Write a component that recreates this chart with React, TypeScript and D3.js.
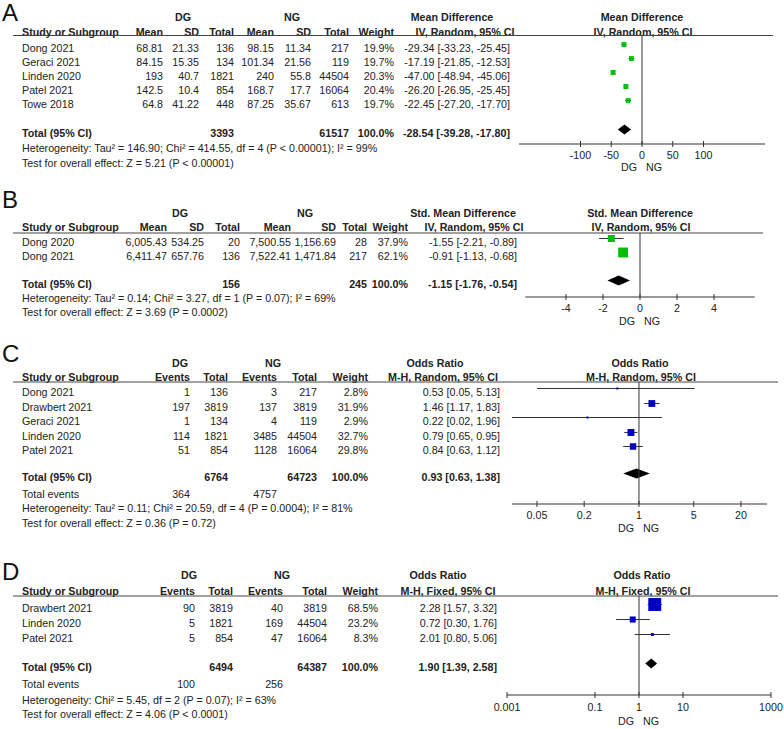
import * as d3 from "d3";

// ---- Panel A: mean difference, DG vs NG ----
const studiesA = ["Dong 2021", "Geraci 2021", "Linden 2020", "Patel 2021", "Towe 2018"];
const dgMeanA = [68.81, 84.15, 193, 142.5, 64.8];
const dgSdA = [21.33, 15.35, 40.7, 10.4, 41.22];
const dgTotalA = [136, 134, 1821, 854, 448];
const ngMeanA = [98.15, 101.34, 240, 168.7, 87.25];
const ngSdA = [11.34, 21.56, 55.8, 17.7, 35.67];
const ngTotalA = [217, 119, 44504, 16064, 613];
const weightA = [19.9, 19.7, 20.3, 20.4, 19.7];
const estA = [-29.34, -17.19, -47.0, -26.2, -22.45];
const lowA = [-33.23, -21.85, -48.94, -26.95, -27.2];
const highA = [-25.45, -12.53, -45.06, -25.45, -17.7];
const pooledA = [-28.54, -39.28, -17.8];
const totalsA = [3393, 61517];
const hetA = "Heterogeneity: Tau² = 146.90; Chi² = 414.55, df = 4 (P < 0.00001); I² = 99%";
const testA = "Test for overall effect: Z = 5.21 (P < 0.00001)";
const ticksA = [-100, -50, 0, 50, 100];

// ---- Panel B: standardised mean difference ----
const studiesB = ["Dong 2020", "Dong 2021"];
const dgMeanB = [6005.43, 6411.47];
const dgSdB = [534.25, 657.76];
const dgTotalB = [20, 136];
const ngMeanB = [7500.55, 7522.41];
const ngSdB = [1156.69, 1471.84];
const ngTotalB = [28, 217];
const weightB = [37.9, 62.1];
const estB = [-1.55, -0.91];
const lowB = [-2.21, -1.13];
const highB = [-0.89, -0.68];
const pooledB = [-1.15, -1.76, -0.54];
const totalsB = [156, 245];
const hetB = "Heterogeneity: Tau² = 0.14; Chi² = 3.27, df = 1 (P = 0.07); I² = 69%";
const testB = "Test for overall effect: Z = 3.69 (P = 0.0002)";
const ticksB = [-4, -2, 0, 2, 4];

// ---- Panel C: odds ratio, random effects ----
const studiesC = ["Dong 2021", "Drawbert 2021", "Geraci 2021", "Linden 2020", "Patel 2021"];
const dgEventsC = [1, 197, 1, 114, 51];
const dgTotalC = [136, 3819, 134, 1821, 854];
const ngEventsC = [3, 137, 4, 3485, 1128];
const ngTotalC = [217, 3819, 119, 44504, 16064];
const weightC = [2.8, 31.9, 2.9, 32.7, 29.8];
const estC = [0.53, 1.46, 0.22, 0.79, 0.84];
const lowC = [0.05, 1.17, 0.02, 0.65, 0.63];
const highC = [5.13, 1.83, 1.96, 0.95, 1.12];
const pooledC = [0.93, 0.63, 1.38];
const totalsC = [6764, 64723];
const eventsC = [364, 4757];
const hetC = "Heterogeneity: Tau² = 0.11; Chi² = 20.59, df = 4 (P = 0.0004); I² = 81%";
const testC = "Test for overall effect: Z = 0.36 (P = 0.72)";
const ticksC = [0.05, 0.2, 1, 5, 20];

// ---- Panel D: odds ratio, fixed effect ----
const studiesD = ["Drawbert 2021", "Linden 2020", "Patel 2021"];
const dgEventsD = [90, 5, 5];
const dgTotalD = [3819, 1821, 854];
const ngEventsD = [40, 169, 47];
const ngTotalD = [3819, 44504, 16064];
const weightD = [68.5, 23.2, 8.3];
const estD = [2.28, 0.72, 2.01];
const lowD = [1.57, 0.3, 0.8];
const highD = [3.32, 1.76, 5.06];
const pooledD = [1.9, 1.39, 2.58];
const totalsD = [6494, 64387];
const eventsD = [100, 256];
const hetD = "Heterogeneity: Chi² = 5.45, df = 2 (P = 0.07); I² = 63%";
const testD = "Test for overall effect: Z = 4.06 (P < 0.0001)";
const ticksD = [0.001, 0.1, 1, 10, 1000];

const FONT = "'Liberation Sans', Arial, Helvetica, sans-serif";
const FS = 10.7;
const INK = "#222";
const GREEN = "#00c000";
const BLUE = "#0000c0";

const f2 = (v: number) => v.toFixed(2);
const ciText = (e: number, l: number, h: number) => `${f2(e)} [${f2(l)}, ${f2(h)}]`;
const pct = (w: number) => w.toFixed(1) + "%";
const comma2 = d3.format(",.2f");

interface Row {
  name: string;
  cells: string[];
  est: number;
  lo: number;
  hi: number;
  w: number;
}

interface PanelCfg {
  letter: string;
  letterY: number;
  dgX: number;
  ngX: number;
  groupY: number;
  headY: number;
  lineY: number;
  lineEnd: number;
  colHeads: string[];
  colRight: number[];
  rows: Row[];
  rowY: number[];
  totalY: number;
  totalCells: [number, string][];
  pooled: number[];
  eventsY?: number;
  eventsCells?: [number, string][];
  notes: [number, string][];
  estTitle: string;
  estSub: string;
  estTitleX: number;
  estSubX: number;
  estRight: number;
  plotX: number;
  scale: (v: number) => number;
  range: [number, number];
  axisY: number;
  ticks: number[];
  tickY: number;
  dgngY: number;
  color: string;
  k: number;
}

const T = (props: any) => (
  <text fontFamily={FONT} fontSize={FS} fill={INK} {...props} />
);

function Panel({ c }: { c: PanelCfg }) {
  const x0 = c.scale(c.ticks.includes(0) ? 0 : 1);
  const clip = (x: number) => Math.max(c.range[0], Math.min(c.range[1], x));
  const sz = (w: number) => Math.max(2, c.k * Math.pow(w, 0.7));
  const [pe, pl, ph] = c.pooled;
  const dy = c.totalY - 3.5;
  return (
    <g>
      <text x={2} y={c.letterY} fontFamily={FONT} fontSize={24} fill="#111">
        {c.letter}
      </text>
      <T x={c.dgX} y={c.groupY + 4} fontWeight="bold" textAnchor="middle">DG</T>
      <T x={c.ngX} y={c.groupY + 4} fontWeight="bold" textAnchor="middle">NG</T>
      <T x={22} y={c.headY + 4} fontWeight="bold">Study or Subgroup</T>
      {c.colHeads.map((h, i) => (
        <T key={i} x={c.colRight[i]} y={c.headY + 4} fontWeight="bold" textAnchor="end">{h}</T>
      ))}
      <T x={c.estTitleX} y={c.groupY + 4} fontWeight="bold" textAnchor="middle">{c.estTitle}</T>
      <T x={c.estSubX} y={c.headY + 4} fontWeight="bold" textAnchor="middle">{c.estSub}</T>
      <T x={c.plotX} y={c.groupY + 4} fontWeight="bold" textAnchor="middle">{c.estTitle}</T>
      <T x={c.plotX + 1} y={c.headY + 4} fontWeight="bold" textAnchor="middle">{c.estSub}</T>
      <line x1={13} x2={c.lineEnd} y1={c.lineY} y2={c.lineY} stroke="#444" strokeWidth={1.2} />

      {c.rows.map((r, i) => {
        const y = c.rowY[i];
        const my = y - 3.5;
        const s = sz(r.w);
        return (
          <g key={r.name}>
            <T x={22} y={y + 4}>{r.name}</T>
            {r.cells.map((v, j) => (
              <T key={j} x={c.colRight[j]} y={y + 4} textAnchor="end">{v}</T>
            ))}
            <T x={c.estRight} y={y + 4} textAnchor="end">{ciText(r.est, r.lo, r.hi)}</T>
            <line x1={clip(c.scale(r.lo))} x2={clip(c.scale(r.hi))} y1={my} y2={my} stroke="#333" strokeWidth={1} />
            <rect x={c.scale(r.est) - s / 2} y={my - s / 2} width={s} height={s} fill={c.color} />
          </g>
        );
      })}

      <T x={22} y={c.totalY + 4} fontWeight="bold">Total (95% CI)</T>
      {c.totalCells.map(([j, v]) => (
        <T key={j} x={c.colRight[j]} y={c.totalY + 4} fontWeight="bold" textAnchor="end">{v}</T>
      ))}
      <T x={c.estRight} y={c.totalY + 4} fontWeight="bold" textAnchor="end">{ciText(pe, pl, ph)}</T>
      <path
        d={`M${c.scale(pl)},${dy}L${c.scale(pe)},${dy - 5}L${c.scale(ph)},${dy}L${c.scale(pe)},${dy + 5}Z`}
        fill="#000"
      />

      {c.eventsY !== undefined && (
        <g>
          <T x={22} y={c.eventsY + 4}>Total events</T>
          {c.eventsCells!.map(([j, v]) => (
            <T key={j} x={c.colRight[j]} y={c.eventsY! + 4} textAnchor="end">{v}</T>
          ))}
        </g>
      )}
      {c.notes.map(([y, s]) => (
        <T key={s} x={22} y={y + 4}>{s}</T>
      ))}

      {/* forest plot axis */}
      <line x1={x0} x2={x0} y1={c.lineY} y2={c.axisY} stroke="#333" strokeWidth={1} />
      <line x1={c.range[0]} x2={c.range[1]} y1={c.axisY} y2={c.axisY} stroke="#333" strokeWidth={1} />
      {c.ticks.map((t) => (
        <g key={t}>
          <line x1={c.scale(t)} x2={c.scale(t)} y1={c.axisY - 3} y2={c.axisY + 3} stroke="#333" strokeWidth={1} />
          <T x={c.scale(t)} y={c.tickY + 4} textAnchor="middle">{String(t)}</T>
        </g>
      ))}
      <T x={x0 - 5} y={c.dgngY + 4} textAnchor="end">DG</T>
      <T x={x0 + 4} y={c.dgngY + 4}>NG</T>
    </g>
  );
}

const scaleA = d3.scaleLinear().domain([-200, 200]).range([519, 765]);
const scaleB = d3.scaleLinear().domain([-6.2, 6.2]).range([525.3, 754.7]);
const scaleC = d3.scaleLog().domain([0.024, 43]).range([512, 767]);
const scaleD = d3.scaleLog().domain([0.001, 1000]).range([507, 771]);

const panelA: PanelCfg = {
  letter: "A", letterY: 21, dgX: 183, ngX: 292, groupY: 17, headY: 32, lineY: 35.5, lineEnd: 773,
  colHeads: ["Mean", "SD", "Total", "Mean", "SD", "Total", "Weight"],
  colRight: [163, 199, 234, 274, 311, 349, 394],
  rows: studiesA.map((s, i) => ({
    name: s,
    cells: [String(dgMeanA[i]), String(dgSdA[i]), String(dgTotalA[i]), String(ngMeanA[i]), String(ngSdA[i]), String(ngTotalA[i]), pct(weightA[i])],
    est: estA[i], lo: lowA[i], hi: highA[i], w: weightA[i],
  })),
  rowY: [48, 62, 76, 90, 104],
  totalY: 133,
  totalCells: [[2, String(totalsA[0])], [5, String(totalsA[1])], [6, "100.0%"]],
  pooled: pooledA,
  notes: [[148, hetA], [163, testA]],
  estTitle: "Mean Difference", estSub: "IV, Random, 95% CI", estTitleX: 452, estSubX: 465, estRight: 510,
  plotX: 642, scale: scaleA, range: [519, 765], axisY: 144, ticks: ticksA, tickY: 155, dgngY: 167,
  color: GREEN, k: 0.6,
};

const panelB: PanelCfg = {
  letter: "B", letterY: 208, dgX: 180, ngX: 305, groupY: 213, headY: 227, lineY: 233, lineEnd: 763,
  colHeads: ["Mean", "SD", "Total", "Mean", "SD", "Total", "Weight"],
  colRight: [167, 204, 240, 291, 336, 367, 408],
  rows: studiesB.map((s, i) => ({
    name: s,
    cells: [comma2(dgMeanB[i]), comma2(dgSdB[i]), String(dgTotalB[i]), comma2(ngMeanB[i]), comma2(ngSdB[i]), String(ngTotalB[i]), pct(weightB[i])],
    est: estB[i], lo: lowB[i], hi: highB[i], w: weightB[i],
  })),
  rowY: [242, 256],
  totalY: 284,
  totalCells: [[2, String(totalsB[0])], [5, String(totalsB[1])], [6, "100.0%"]],
  pooled: pooledB,
  notes: [[298, hetB], [312, testB]],
  estTitle: "Std. Mean Difference", estSub: "IV, Random, 95% CI", estTitleX: 463, estSubX: 474, estRight: 517,
  plotX: 640, scale: scaleB, range: [525.3, 754.7], axisY: 297, ticks: ticksB, tickY: 308, dgngY: 321,
  color: GREEN, k: 0.55,
};

const panelC: PanelCfg = {
  letter: "C", letterY: 362, dgX: 180, ngX: 273, groupY: 363, headY: 377, lineY: 382, lineEnd: 778,
  colHeads: ["Events", "Total", "Events", "Total", "Weight"],
  colRight: [190, 228, 277, 317, 368],
  rows: studiesC.map((s, i) => ({
    name: s,
    cells: [String(dgEventsC[i]), String(dgTotalC[i]), String(ngEventsC[i]), String(ngTotalC[i]), pct(weightC[i])],
    est: estC[i], lo: lowC[i], hi: highC[i], w: weightC[i],
  })),
  rowY: [392, 407, 421, 436, 450],
  totalY: 477,
  totalCells: [[1, String(totalsC[0])], [3, String(totalsC[1])], [4, "100.0%"]],
  pooled: pooledC,
  eventsY: 494,
  eventsCells: [[0, String(eventsC[0])], [2, String(eventsC[1])]],
  notes: [[508, hetC], [523, testC]],
  estTitle: "Odds Ratio", estSub: "M-H, Random, 95% CI", estTitleX: 435, estSubX: 443, estRight: 500,
  plotX: 640, scale: scaleC, range: [512, 767], axisY: 504, ticks: ticksC, tickY: 515, dgngY: 528,
  color: BLUE, k: 0.6,
};

const panelD: PanelCfg = {
  letter: "D", letterY: 580, dgX: 189, ngX: 282, groupY: 575, headY: 591, lineY: 596, lineEnd: 778,
  colHeads: ["Events", "Total", "Events", "Total", "Weight"],
  colRight: [195, 233, 283, 327, 378],
  rows: studiesD.map((s, i) => ({
    name: s,
    cells: [String(dgEventsD[i]), String(dgTotalD[i]), String(ngEventsD[i]), String(ngTotalD[i]), pct(weightD[i])],
    est: estD[i], lo: lowD[i], hi: highD[i], w: weightD[i],
  })),
  rowY: [608, 623, 638],
  totalY: 667,
  totalCells: [[1, String(totalsD[0])], [3, String(totalsD[1])], [4, "100.0%"]],
  pooled: pooledD,
  eventsY: 684,
  eventsCells: [[0, String(eventsD[0])], [2, String(eventsD[1])]],
  notes: [[700, hetD], [714, testD]],
  estTitle: "Odds Ratio", estSub: "M-H, Fixed, 95% CI", estTitleX: 438, estSubX: 448, estRight: 497,
  plotX: 642, scale: scaleD, range: [507, 771], axisY: 695, ticks: ticksD, tickY: 707, dgngY: 721,
  color: BLUE, k: 0.67,
};

export default function App() {
  return (
    <svg
      width={784}
      height={729}
      style={{ position: "absolute", left: 0, top: 0, background: "#fff" }}
    >
      <rect width={784} height={729} fill="#fff" />
      {[panelA, panelB, panelC, panelD].map((p) => (
        <Panel key={p.letter} c={p} />
      ))}
    </svg>
  );
}
